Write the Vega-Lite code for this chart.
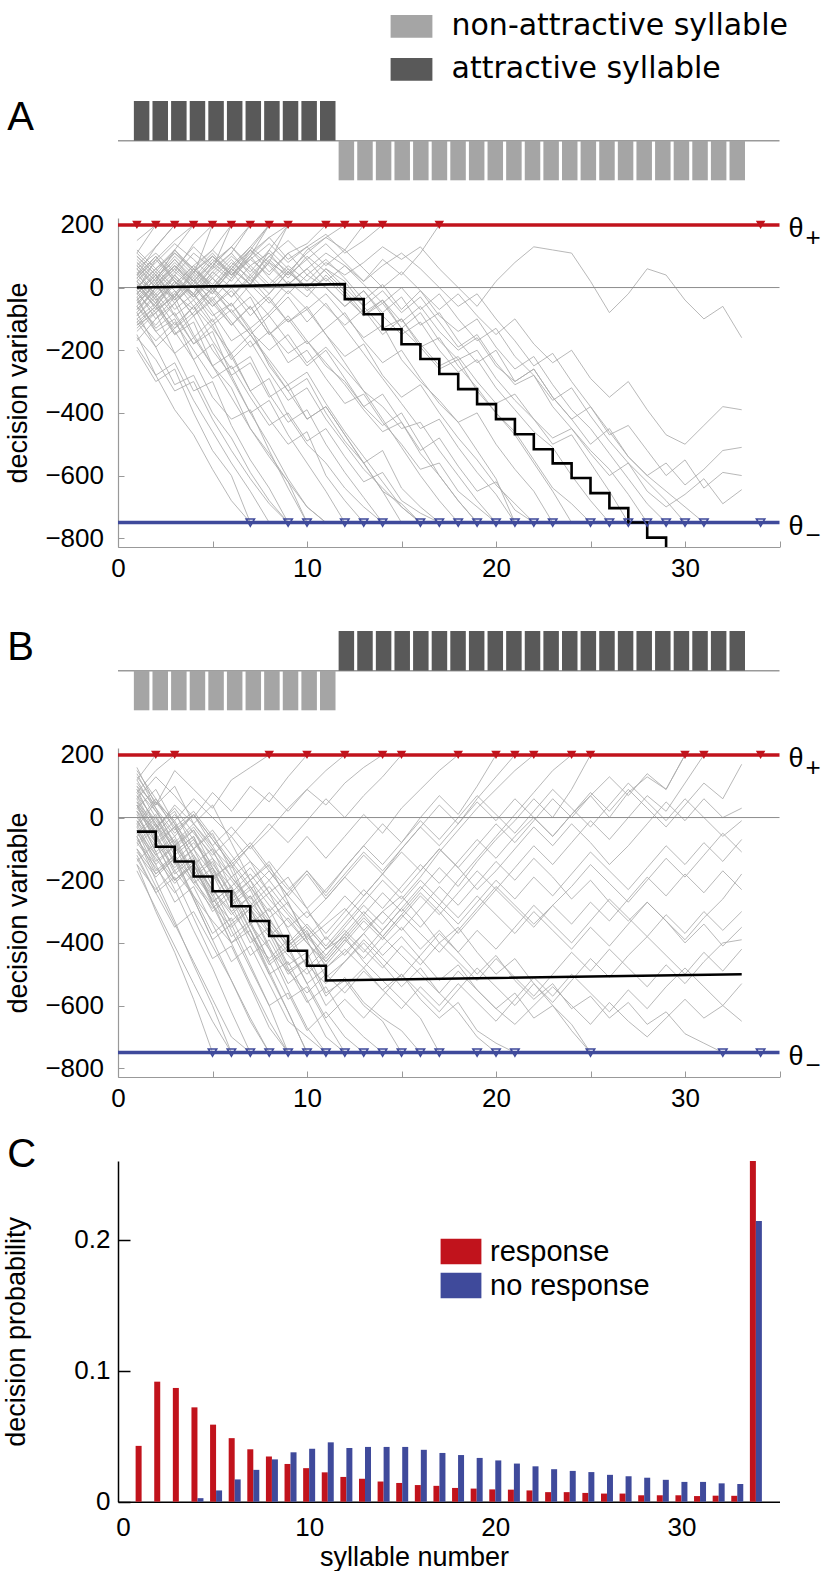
{
"$schema": "https://vega.github.io/schema/vega-lite/v6.json",
"padding": {"left": 2, "top": 7, "right": 0, "bottom": 0},
"bounds": "flush",
"spacing": 37,
"config": {
  "font": "Liberation Sans",
  "view": {"stroke": null},
  "axis": {"labelFontSize": 26, "titleFontSize": 27, "titleFontWeight": "normal", "labelColor": "#000", "titleColor": "#000", "grid": false, "labelOverlap": false, "labelFlush": false, "labelFont": "Liberation Sans", "titleFont": "Liberation Sans"},
  "legend": {"labelFont": "Liberation Sans", "labelColor": "#000"}
},
"resolve": {"scale": {"x": "independent", "y": "independent", "color": "independent"}, "legend": {"color": "independent"}},
"datasets": {
  "strip": [
    {"x":1,"kA":"attractive syllable","vA":1,"kB":"non-attractive syllable","vB":-1},
    {"x":2,"kA":"attractive syllable","vA":1,"kB":"non-attractive syllable","vB":-1},
    {"x":3,"kA":"attractive syllable","vA":1,"kB":"non-attractive syllable","vB":-1},
    {"x":4,"kA":"attractive syllable","vA":1,"kB":"non-attractive syllable","vB":-1},
    {"x":5,"kA":"attractive syllable","vA":1,"kB":"non-attractive syllable","vB":-1},
    {"x":6,"kA":"attractive syllable","vA":1,"kB":"non-attractive syllable","vB":-1},
    {"x":7,"kA":"attractive syllable","vA":1,"kB":"non-attractive syllable","vB":-1},
    {"x":8,"kA":"attractive syllable","vA":1,"kB":"non-attractive syllable","vB":-1},
    {"x":9,"kA":"attractive syllable","vA":1,"kB":"non-attractive syllable","vB":-1},
    {"x":10,"kA":"attractive syllable","vA":1,"kB":"non-attractive syllable","vB":-1},
    {"x":11,"kA":"attractive syllable","vA":1,"kB":"non-attractive syllable","vB":-1},
    {"x":12,"kA":"non-attractive syllable","vA":-1,"kB":"attractive syllable","vB":1},
    {"x":13,"kA":"non-attractive syllable","vA":-1,"kB":"attractive syllable","vB":1},
    {"x":14,"kA":"non-attractive syllable","vA":-1,"kB":"attractive syllable","vB":1},
    {"x":15,"kA":"non-attractive syllable","vA":-1,"kB":"attractive syllable","vB":1},
    {"x":16,"kA":"non-attractive syllable","vA":-1,"kB":"attractive syllable","vB":1},
    {"x":17,"kA":"non-attractive syllable","vA":-1,"kB":"attractive syllable","vB":1},
    {"x":18,"kA":"non-attractive syllable","vA":-1,"kB":"attractive syllable","vB":1},
    {"x":19,"kA":"non-attractive syllable","vA":-1,"kB":"attractive syllable","vB":1},
    {"x":20,"kA":"non-attractive syllable","vA":-1,"kB":"attractive syllable","vB":1},
    {"x":21,"kA":"non-attractive syllable","vA":-1,"kB":"attractive syllable","vB":1},
    {"x":22,"kA":"non-attractive syllable","vA":-1,"kB":"attractive syllable","vB":1},
    {"x":23,"kA":"non-attractive syllable","vA":-1,"kB":"attractive syllable","vB":1},
    {"x":24,"kA":"non-attractive syllable","vA":-1,"kB":"attractive syllable","vB":1},
    {"x":25,"kA":"non-attractive syllable","vA":-1,"kB":"attractive syllable","vB":1},
    {"x":26,"kA":"non-attractive syllable","vA":-1,"kB":"attractive syllable","vB":1},
    {"x":27,"kA":"non-attractive syllable","vA":-1,"kB":"attractive syllable","vB":1},
    {"x":28,"kA":"non-attractive syllable","vA":-1,"kB":"attractive syllable","vB":1},
    {"x":29,"kA":"non-attractive syllable","vA":-1,"kB":"attractive syllable","vB":1},
    {"x":30,"kA":"non-attractive syllable","vA":-1,"kB":"attractive syllable","vB":1},
    {"x":31,"kA":"non-attractive syllable","vA":-1,"kB":"attractive syllable","vB":1},
    {"x":32,"kA":"non-attractive syllable","vA":-1,"kB":"attractive syllable","vB":1},
    {"x":33,"kA":"non-attractive syllable","vA":-1,"kB":"attractive syllable","vB":1}
  ],
  "tA": [
    {"t":"u1","x":[1,2,3,4,5,6,7,8,9,10,11,12,13,14,15,16,17,18,19,20,21,22,23,24,25,26,27,28,29,30,31,32,33],"y":[110,200]},
    {"t":"u2","x":[1,2,3,4,5,6,7,8,9,10,11,12,13,14,15,16,17,18,19,20,21,22,23,24,25,26,27,28,29,30,31,32,33],"y":[150,200]},
    {"t":"u3","x":[1,2,3,4,5,6,7,8,9,10,11,12,13,14,15,16,17,18,19,20,21,22,23,24,25,26,27,28,29,30,31,32,33],"y":[40,130,200]},
    {"t":"u4","x":[1,2,3,4,5,6,7,8,9,10,11,12,13,14,15,16,17,18,19,20,21,22,23,24,25,26,27,28,29,30,31,32,33],"y":[-10,90,150,200]},
    {"t":"u5","x":[1,2,3,4,5,6,7,8,9,10,11,12,13,14,15,16,17,18,19,20,21,22,23,24,25,26,27,28,29,30,31,32,33],"y":[80,20,120,200]},
    {"t":"u6","x":[1,2,3,4,5,6,7,8,9,10,11,12,13,14,15,16,17,18,19,20,21,22,23,24,25,26,27,28,29,30,31,32,33],"y":[60,110,50,140,200]},
    {"t":"u7","x":[1,2,3,4,5,6,7,8,9,10,11,12,13,14,15,16,17,18,19,20,21,22,23,24,25,26,27,28,29,30,31,32,33],"y":[-40,30,100,40,200]},
    {"t":"u8","x":[1,2,3,4,5,6,7,8,9,10,11,12,13,14,15,16,17,18,19,20,21,22,23,24,25,26,27,28,29,30,31,32,33],"y":[10,-50,40,110,60,200]},
    {"t":"u9","x":[1,2,3,4,5,6,7,8,9,10,11,12,13,14,15,16,17,18,19,20,21,22,23,24,25,26,27,28,29,30,31,32,33],"y":[-80,0,-30,60,120,200]},
    {"t":"u10","x":[1,2,3,4,5,6,7,8,9,10,11,12,13,14,15,16,17,18,19,20,21,22,23,24,25,26,27,28,29,30,31,32,33],"y":[30,100,20,-20,70,130,200]},
    {"t":"u11","x":[1,2,3,4,5,6,7,8,9,10,11,12,13,14,15,16,17,18,19,20,21,22,23,24,25,26,27,28,29,30,31,32,33],"y":[-120,-60,20,-30,50,110,200]},
    {"t":"u12","x":[1,2,3,4,5,6,7,8,9,10,11,12,13,14,15,16,17,18,19,20,21,22,23,24,25,26,27,28,29,30,31,32,33],"y":[70,0,60,130,70,20,100,200]},
    {"t":"u13","x":[1,2,3,4,5,6,7,8,9,10,11,12,13,14,15,16,17,18,19,20,21,22,23,24,25,26,27,28,29,30,31,32,33],"y":[-20,40,-40,10,80,30,120,200]},
    {"t":"u14","x":[1,2,3,4,5,6,7,8,9,10,11,12,13,14,15,16,17,18,19,20,21,22,23,24,25,26,27,28,29,30,31,32,33],"y":[-60,-120,-50,20,-20,60,10,120,200]},
    {"t":"u15","x":[1,2,3,4,5,6,7,8,9,10,11,12,13,14,15,16,17,18,19,20,21,22,23,24,25,26,27,28,29,30,31,32,33],"y":[100,40,110,60,0,70,130,80,200]},
    {"t":"u16","x":[1,2,3,4,5,6,7,8,9,10,11,12,13,14,15,16,17,18,19,20,21,22,23,24,25,26,27,28,29,30,31,32,33],"y":[-30,30,90,20,-40,30,90,40,110,140,200]},
    {"t":"u17","x":[1,2,3,4,5,6,7,8,9,10,11,12,13,14,15,16,17,18,19,20,21,22,23,24,25,26,27,28,29,30,31,32,33],"y":[20,-40,10,70,120,60,10,80,40,120,160,200]},
    {"t":"u18","x":[1,2,3,4,5,6,7,8,9,10,11,12,13,14,15,16,17,18,19,20,21,22,23,24,25,26,27,28,29,30,31,32,33],"y":[-50,10,70,0,60,110,40,100,50,110,160,120,200]},
    {"t":"u19","x":[1,2,3,4,5,6,7,8,9,10,11,12,13,14,15,16,17,18,19,20,21,22,23,24,25,26,27,28,29,30,31,32,33],"y":[0,60,120,50,100,40,110,160,90,130,170,110,150,200]},
    {"t":"u20","x":[1,2,3,4,5,6,7,8,9,10,11,12,13,14,15,16,17,18,19,20,21,22,23,24,25,26,27,28,29,30,31,32,33],"y":[-90,-20,40,-30,30,90,20,80,10,60,110,70,20,90,40,110,200]},
    {"t":"d1","x":[1,2,3,4,5,6,7,8,9,10,11,12,13,14,15,16,17,18,19,20,21,22,23,24,25,26,27,28,29,30,31,32,33],"y":[-150,-280,-390,-470,-580,-680,-750]},
    {"t":"d2","x":[1,2,3,4,5,6,7,8,9,10,11,12,13,14,15,16,17,18,19,20,21,22,23,24,25,26,27,28,29,30,31,32,33],"y":[-200,-300,-260,-400,-520,-600,-750]},
    {"t":"d3","x":[1,2,3,4,5,6,7,8,9,10,11,12,13,14,15,16,17,18,19,20,21,22,23,24,25,26,27,28,29,30,31,32,33],"y":[-80,-190,-310,-280,-400,-480,-590,-680,-750]},
    {"t":"d4","x":[1,2,3,4,5,6,7,8,9,10,11,12,13,14,15,16,17,18,19,20,21,22,23,24,25,26,27,28,29,30,31,32,33],"y":[-120,-80,-210,-330,-300,-440,-550,-640,-750]},
    {"t":"d5","x":[1,2,3,4,5,6,7,8,9,10,11,12,13,14,15,16,17,18,19,20,21,22,23,24,25,26,27,28,29,30,31,32,33],"y":[-30,-140,-100,-230,-350,-420,-390,-520,-640,-750]},
    {"t":"d6","x":[1,2,3,4,5,6,7,8,9,10,11,12,13,14,15,16,17,18,19,20,21,22,23,24,25,26,27,28,29,30,31,32,33],"y":[50,-40,-150,-110,-250,-320,-450,-530,-620,-750]},
    {"t":"d7","x":[1,2,3,4,5,6,7,8,9,10,11,12,13,14,15,16,17,18,19,20,21,22,23,24,25,26,27,28,29,30,31,32,33],"y":[-60,20,-90,-180,-140,-280,-400,-360,-470,-560,-650,-750]},
    {"t":"d8","x":[1,2,3,4,5,6,7,8,9,10,11,12,13,14,15,16,17,18,19,20,21,22,23,24,25,26,27,28,29,30,31,32,33],"y":[20,-70,-30,-150,-250,-210,-330,-420,-500,-460,-600,-680,-750]},
    {"t":"d9","x":[1,2,3,4,5,6,7,8,9,10,11,12,13,14,15,16,17,18,19,20,21,22,23,24,25,26,27,28,29,30,31,32,33],"y":[-10,-100,-50,-160,-100,-220,-330,-290,-410,-500,-560,-640,-700,-750]},
    {"t":"d10","x":[1,2,3,4,5,6,7,8,9,10,11,12,13,14,15,16,17,18,19,20,21,22,23,24,25,26,27,28,29,30,31,32,33],"y":[90,30,-50,10,-80,-170,-130,-250,-330,-290,-400,-490,-560,-650,-690,-750]},
    {"t":"d11","x":[1,2,3,4,5,6,7,8,9,10,11,12,13,14,15,16,17,18,19,20,21,22,23,24,25,26,27,28,29,30,31,32,33],"y":[-110,-60,-150,-90,-200,-280,-240,-350,-310,-420,-380,-470,-560,-520,-640,-700,-750]},
    {"t":"d12","x":[1,2,3,4,5,6,7,8,9,10,11,12,13,14,15,16,17,18,19,20,21,22,23,24,25,26,27,28,29,30,31,32,33],"y":[30,90,20,-60,0,-80,-30,-140,-210,-170,-250,-300,-380,-440,-400,-500,-600,-680,-750]},
    {"t":"d13","x":[1,2,3,4,5,6,7,8,9,10,11,12,13,14,15,16,17,18,19,20,21,22,23,24,25,26,27,28,29,30,31,32,33],"y":[-40,10,-70,-20,-110,-50,-140,-200,-150,-240,-190,-260,-330,-380,-450,-430,-520,-600,-680,-750]},
    {"t":"d14","x":[1,2,3,4,5,6,7,8,9,10,11,12,13,14,15,16,17,18,19,20,21,22,23,24,25,26,27,28,29,30,31,32,33],"y":[60,0,70,10,-60,-10,-90,-30,-110,-70,-20,-90,-160,-120,-230,-300,-360,-430,-520,-610,-750]},
    {"t":"d15","x":[1,2,3,4,5,6,7,8,9,10,11,12,13,14,15,16,17,18,19,20,21,22,23,24,25,26,27,28,29,30,31,32,33],"y":[-130,-70,-10,-90,-40,-120,-60,-150,-100,-180,-130,-80,-170,-240,-200,-290,-370,-430,-400,-500,-580,-650,-750]},
    {"t":"d16","x":[1,2,3,4,5,6,7,8,9,10,11,12,13,14,15,16,17,18,19,20,21,22,23,24,25,26,27,28,29,30,31,32,33],"y":[10,-50,20,-40,30,-30,40,-20,50,0,60,20,-60,-130,-100,-190,-260,-230,-330,-400,-470,-560,-650,-750]},
    {"t":"d17","x":[1,2,3,4,5,6,7,8,9,10,11,12,13,14,15,16,17,18,19,20,21,22,23,24,25,26,27,28,29,30,31,32,33],"y":[-20,40,-30,50,-10,70,10,90,30,100,50,-10,-80,-40,-130,-190,-160,-250,-320,-400,-460,-550,-640,-690,-750]},
    {"t":"d18","x":[1,2,3,4,5,6,7,8,9,10,11,12,13,14,15,16,17,18,19,20,21,22,23,24,25,26,27,28,29,30,31,32,33],"y":[70,10,80,20,90,40,100,30,-20,40,0,-60,-10,-90,-150,-110,-200,-270,-230,-320,-390,-460,-510,-600,-680,-750]},
    {"t":"d19","x":[1,2,3,4,5,6,7,8,9,10,11,12,13,14,15,16,17,18,19,20,21,22,23,24,25,26,27,28,29,30,31,32,33],"y":[-70,0,60,0,70,130,60,0,60,-10,30,-30,-90,-50,-130,-80,-170,-230,-200,-290,-360,-420,-500,-470,-560,-650,-750]},
    {"t":"d20","x":[1,2,3,4,5,6,7,8,9,10,11,12,13,14,15,16,17,18,19,20,21,22,23,24,25,26,27,28,29,30,31,32,33],"y":[40,100,30,-30,40,100,50,120,60,0,60,0,-60,-10,-80,-30,-110,-190,-150,-240,-310,-280,-380,-450,-520,-580,-660,-750]},
    {"t":"d21","x":[1,2,3,4,5,6,7,8,9,10,11,12,13,14,15,16,17,18,19,20,21,22,23,24,25,26,27,28,29,30,31,32,33],"y":[0,-60,10,70,0,60,120,50,110,40,90,30,-40,10,-70,-10,-90,-140,-100,-190,-260,-220,-310,-390,-450,-530,-610,-690,-750]},
    {"t":"d22","x":[1,2,3,4,5,6,7,8,9,10,11,12,13,14,15,16,17,18,19,20,21,22,23,24,25,26,27,28,29,30,31,32,33],"y":[-90,-30,30,-20,50,0,70,110,40,90,20,70,10,-50,0,-70,-20,-100,-170,-130,-220,-280,-360,-320,-410,-490,-560,-620,-680,-750]},
    {"t":"d23","x":[1,2,3,4,5,6,7,8,9,10,11,12,13,14,15,16,17,18,19,20,21,22,23,24,25,26,27,28,29,30,31,32,33],"y":[120,60,0,60,10,80,30,100,150,90,140,80,20,70,110,60,0,-60,-20,-100,-170,-250,-210,-300,-380,-460,-540,-600,-650,-700,-750]},
    {"t":"d24","x":[1,2,3,4,5,6,7,8,9,10,11,12,13,14,15,16,17,18,19,20,21,22,23,24,25,26,27,28,29,30,31,32,33],"y":[-160,-230,-330,-300,-420,-520,-610,-690,-750]},
    {"t":"d25","x":[1,2,3,4,5,6,7,8,9,10,11,12,13,14,15,16,17,18,19,20,21,22,23,24,25,26,27,28,29,30,31,32,33],"y":[-190,-280,-240,-360,-460,-560,-650,-750]},
    {"t":"d26","x":[1,2,3,4,5,6,7,8,9,10,11,12,13,14,15,16,17,18,19,20,21,22,23,24,25,26,27,28,29,30,31,32,33],"y":[60,-30,-120,-60,-170,-260,-220,-340,-430,-390,-500,-590,-670,-750]},
    {"t":"d27","x":[1,2,3,4,5,6,7,8,9,10,11,12,13,14,15,16,17,18,19,20,21,22,23,24,25,26,27,28,29,30,31,32,33],"y":[-40,-130,-80,-180,-120,-230,-170,-270,-360,-320,-420,-500,-580,-640,-700,-750]},
    {"t":"d28","x":[1,2,3,4,5,6,7,8,9,10,11,12,13,14,15,16,17,18,19,20,21,22,23,24,25,26,27,28,29,30,31,32,33],"y":[100,40,-40,30,-50,-120,-60,-150,-90,-170,-240,-310,-390,-460,-430,-530,-600,-680,-750]},
    {"t":"d29","x":[1,2,3,4,5,6,7,8,9,10,11,12,13,14,15,16,17,18,19,20,21,22,23,24,25,26,27,28,29,30,31,32,33],"y":[-100,-170,-110,-200,-290,-250,-350,-440,-400,-490,-450,-540,-620,-590,-680,-720,-750]},
    {"t":"d30","x":[1,2,3,4,5,6,7,8,9,10,11,12,13,14,15,16,17,18,19,20,21,22,23,24,25,26,27,28,29,30,31,32,33],"y":[-20,50,-10,-90,-30,-110,-190,-140,-240,-200,-290,-370,-340,-430,-500,-580,-560,-650,-700,-750]},
    {"t":"d31","x":[1,2,3,4,5,6,7,8,9,10,11,12,13,14,15,16,17,18,19,20,21,22,23,24,25,26,27,28,29,30,31,32,33],"y":[30,-30,40,-20,-90,-50,-130,-80,-10,-70,-150,-220,-180,-280,-350,-310,-400,-480,-550,-630,-690,-750]},
    {"t":"e1","x":[1,2,3,4,5,6,7,8,9,10,11,12,13,14,15,16,17,18,19,20,21,22,23,24,25,26,27,28,29,30,31,32,33],"y":[70,130,200]},
    {"t":"e2","x":[1,2,3,4,5,6,7,8,9,10,11,12,13,14,15,16,17,18,19,20,21,22,23,24,25,26,27,28,29,30,31,32,33],"y":[-170,-100,-30,40,-20,60,130,200]},
    {"t":"e3","x":[1,2,3,4,5,6,7,8,9,10,11,12,13,14,15,16,17,18,19,20,21,22,23,24,25,26,27,28,29,30,31,32,33],"y":[-100,-50,-140,-230,-180,-290,-400,-500,-610,-700,-750]},
    {"t":"e4","x":[1,2,3,4,5,6,7,8,9,10,11,12,13,14,15,16,17,18,19,20,21,22,23,24,25,26,27,28,29,30,31,32,33],"y":[20,80,140,90,30,-30,30,-40,-110,-60,-150,-240,-330,-420,-510,-600,-680,-750]},
    {"t":"e5","x":[1,2,3,4,5,6,7,8,9,10,11,12,13,14,15,16,17,18,19,20,21,22,23,24,25,26,27,28,29,30,31,32,33],"y":[-60,-140,-210,-160,-250,-350,-450,-540,-620,-700,-750]},
    {"t":"e6","x":[1,2,3,4,5,6,7,8,9,10,11,12,13,14,15,16,17,18,19,20,21,22,23,24,25,26,27,28,29,30,31,32,33],"y":[110,50,120,60,-10,50,-20,-90,-30,-110,-50,-130,-210,-290,-370,-450,-420,-510,-590,-660,-750]},
    {"t":"e7","x":[1,2,3,4,5,6,7,8,9,10,11,12,13,14,15,16,17,18,19,20,21,22,23,24,25,26,27,28,29,30,31,32,33],"y":[-20,-80,-20,50,110,40,100,160,200]},
    {"t":"e8","x":[1,2,3,4,5,6,7,8,9,10,11,12,13,14,15,16,17,18,19,20,21,22,23,24,25,26,27,28,29,30,31,32,33],"y":[40,-20,-90,-40,-120,-70,-150,-230,-310,-270,-370,-460,-540,-620,-700,-750]},
    {"t":"e9","x":[1,2,3,4,5,6,7,8,9,10,11,12,13,14,15,16,17,18,19,20,21,22,23,24,25,26,27,28,29,30,31,32,33],"y":[-110,-190,-130,-60,-130,-210,-150,-240,-330,-420,-380,-470,-560,-650,-750]},
    {"t":"e10","x":[1,2,3,4,5,6,7,8,9,10,11,12,13,14,15,16,17,18,19,20,21,22,23,24,25,26,27,28,29,30,31,32,33],"y":[0,-60,-130,-80,-10,-80,-150,-90,-170,-250,-200,-290,-380,-340,-430,-520,-480,-570,-650,-620,-710,-750]},
    {"t":"s1","x":[1,2,3,4,5,6,7,8,9,10,11,12,13,14,15,16,17,18,19,20,21,22,23,24,25,26,27,28,29,30,31,32,33],"y":[-50,10,70,20,80,130,70,10,70,20,80,40,80,130,90,130,60,0,-60,20,80,130,120,110,20,-80,-20,60,40,-40,-100,-60,-160]},
    {"t":"s2","x":[1,2,3,4,5,6,7,8,9,10,11,12,13,14,15,16,17,18,19,20,21,22,23,24,25,26,27,28,29,30,31,32,33],"y":[0,60,110,50,100,40,90,140,80,130,70,120,60,0,50,-10,-70,-20,-90,-150,-100,-180,-240,-200,-290,-350,-300,-390,-470,-500,-440,-380,-390]},
    {"t":"s3","x":[1,2,3,4,5,6,7,8,9,10,11,12,13,14,15,16,17,18,19,20,21,22,23,24,25,26,27,28,29,30,31,32,33],"y":[-140,-80,-20,-70,0,-60,10,-50,20,-30,40,-20,-90,-40,-110,-60,-140,-200,-160,-250,-300,-260,-350,-420,-500,-450,-540,-600,-560,-630,-580,-520,-510]},
    {"t":"s4","x":[1,2,3,4,5,6,7,8,9,10,11,12,13,14,15,16,17,18,19,20,21,22,23,24,25,26,27,28,29,30,31,32,33],"y":[80,20,90,30,100,50,120,70,10,60,0,-60,-10,-80,-30,-120,-80,-170,-240,-200,-300,-260,-350,-420,-380,-470,-440,-520,-600,-550,-640,-590,-600]},
    {"t":"s5","x":[1,2,3,4,5,6,7,8,9,10,11,12,13,14,15,16,17,18,19,20,21,22,23,24,25,26,27,28,29,30,31,32,33],"y":[-70,-10,50,0,-60,0,-70,-20,50,0,-60,-120,-70,-150,-100,-180,-250,-220,-300,-370,-340,-420,-480,-450,-530,-600,-560,-650,-700,-660,-610,-690,-645]}
  ],
  "tB": [
    {"t":"bu1","x":[1,2,3,4,5,6,7,8,9,10,11,12,13,14,15,16,17,18,19,20,21,22,23,24,25,26,27,28,29,30,31,32,33],"y":[120,200]},
    {"t":"bu2","x":[1,2,3,4,5,6,7,8,9,10,11,12,13,14,15,16,17,18,19,20,21,22,23,24,25,26,27,28,29,30,31,32,33],"y":[80,150,200]},
    {"t":"bd1","x":[1,2,3,4,5,6,7,8,9,10,11,12,13,14,15,16,17,18,19,20,21,22,23,24,25,26,27,28,29,30,31,32,33],"y":[-150,-300,-430,-580,-750]},
    {"t":"bd2","x":[1,2,3,4,5,6,7,8,9,10,11,12,13,14,15,16,17,18,19,20,21,22,23,24,25,26,27,28,29,30,31,32,33],"y":[-60,-200,-330,-470,-600,-750]},
    {"t":"bd3","x":[1,2,3,4,5,6,7,8,9,10,11,12,13,14,15,16,17,18,19,20,21,22,23,24,25,26,27,28,29,30,31,32,33],"y":[20,-110,-230,-360,-480,-620,-750]},
    {"t":"bd4","x":[1,2,3,4,5,6,7,8,9,10,11,12,13,14,15,16,17,18,19,20,21,22,23,24,25,26,27,28,29,30,31,32,33],"y":[-40,-170,-120,-260,-390,-520,-650,-750]},
    {"t":"bd5","x":[1,2,3,4,5,6,7,8,9,10,11,12,13,14,15,16,17,18,19,20,21,22,23,24,25,26,27,28,29,30,31,32,33],"y":[60,-60,-180,-130,-270,-400,-360,-500,-620,-750]},
    {"t":"bd6","x":[1,2,3,4,5,6,7,8,9,10,11,12,13,14,15,16,17,18,19,20,21,22,23,24,25,26,27,28,29,30,31,32,33],"y":[100,0,-110,-60,-190,-150,-290,-420,-550,-670,-750]},
    {"t":"bd7","x":[1,2,3,4,5,6,7,8,9,10,11,12,13,14,15,16,17,18,19,20,21,22,23,24,25,26,27,28,29,30,31,32,33],"y":[-120,-240,-190,-320,-450,-410,-540,-670,-750]},
    {"t":"bd8","x":[1,2,3,4,5,6,7,8,9,10,11,12,13,14,15,16,17,18,19,20,21,22,23,24,25,26,27,28,29,30,31,32,33],"y":[30,90,-20,-150,-100,-230,-360,-490,-620,-750]},
    {"t":"bd9","x":[1,2,3,4,5,6,7,8,9,10,11,12,13,14,15,16,17,18,19,20,21,22,23,24,25,26,27,28,29,30,31,32,33],"y":[-80,-20,-140,-260,-390,-340,-470,-600,-560,-680,-620,-700,-750]},
    {"t":"bd10","x":[1,2,3,4,5,6,7,8,9,10,11,12,13,14,15,16,17,18,19,20,21,22,23,24,25,26,27,28,29,30,31,32,33],"y":[50,-70,-10,-130,-250,-380,-330,-460,-580,-540,-650,-750]},
    {"t":"bd11","x":[1,2,3,4,5,6,7,8,9,10,11,12,13,14,15,16,17,18,19,20,21,22,23,24,25,26,27,28,29,30,31,32,33],"y":[-20,-140,-90,-210,-160,-280,-400,-350,-480,-590,-540,-640,-700,-750]},
    {"t":"bd12","x":[1,2,3,4,5,6,7,8,9,10,11,12,13,14,15,16,17,18,19,20,21,22,23,24,25,26,27,28,29,30,31,32,33],"y":[140,30,-90,-40,-160,-280,-230,-350,-470,-430,-560,-520,-600,-650,-750]},
    {"t":"bd13","x":[1,2,3,4,5,6,7,8,9,10,11,12,13,14,15,16,17,18,19,20,21,22,23,24,25,26,27,28,29,30,31,32,33],"y":[-50,10,-110,-60,-180,-300,-250,-370,-490,-450,-570,-510,-590,-640,-680,-750]},
    {"t":"bd14","x":[1,2,3,4,5,6,7,8,9,10,11,12,13,14,15,16,17,18,19,20,21,22,23,24,25,26,27,28,29,30,31,32,33],"y":[90,-30,20,-100,-50,-170,-290,-240,-360,-480,-420,-380,-460,-520,-580,-640,-750]},
    {"t":"bd15","x":[1,2,3,4,5,6,7,8,9,10,11,12,13,14,15,16,17,18,19,20,21,22,23,24,25,26,27,28,29,30,31,32,33],"y":[10,-110,-60,-180,-130,-250,-200,-320,-270,-390,-510,-460,-400,-470,-540,-480,-560,-620,-700,-750]},
    {"t":"bd16","x":[1,2,3,4,5,6,7,8,9,10,11,12,13,14,15,16,17,18,19,20,21,22,23,24,25,26,27,28,29,30,31,32,33],"y":[-90,-30,-150,-100,-220,-340,-290,-410,-530,-480,-600,-540,-480,-550,-500,-580,-640,-590,-680,-720,-750]},
    {"t":"bd17","x":[1,2,3,4,5,6,7,8,9,10,11,12,13,14,15,16,17,18,19,20,21,22,23,24,25,26,27,28,29,30,31,32,33],"y":[160,40,100,-20,40,-80,-200,-150,-270,-390,-340,-290,-360,-300,-250,-320,-400,-350,-430,-500,-450,-530,-600,-660,-750]},
    {"t":"bd18","x":[1,2,3,4,5,6,7,8,9,10,11,12,13,14,15,16,17,18,19,20,21,22,23,24,25,26,27,28,29,30,31,32,33],"y":[40,-80,-30,-150,-270,-220,-340,-290,-410,-360,-480,-430,-370,-440,-380,-450,-520,-470,-550,-610,-560,-640,-600,-680,-750]},
    {"t":"bd19","x":[1,2,3,4,5,6,7,8,9,10,11,12,13,14,15,16,17,18,19,20,21,22,23,24,25,26,27,28,29,30,31,32,33],"y":[-140,-80,-200,-150,-270,-220,-340,-460,-410,-530,-480,-420,-480,-410,-350,-420,-360,-430,-500,-440,-520,-580,-530,-610,-570,-640,-590,-660,-620,-690,-720,-750]},
    {"t":"bd20","x":[1,2,3,4,5,6,7,8,9,10,11,12,13,14,15,16,17,18,19,20,21,22,23,24,25,26,27,28,29,30,31,32,33],"y":[-30,-150,-270,-220,-340,-460,-410,-530,-650,-700,-750]},
    {"t":"bd21","x":[1,2,3,4,5,6,7,8,9,10,11,12,13,14,15,16,17,18,19,20,21,22,23,24,25,26,27,28,29,30,31,32,33],"y":[70,-50,-170,-120,-240,-360,-480,-600,-750]},
    {"t":"bd22","x":[1,2,3,4,5,6,7,8,9,10,11,12,13,14,15,16,17,18,19,20,21,22,23,24,25,26,27,28,29,30,31,32,33],"y":[-170,-290,-410,-530,-650,-750]},
    {"t":"f1","x":[1,2,3,4,5,6,7,8,9,10,11,12,13,14,15,16,17,18,19,20,21,22,23,24,25,26,27,28,29,30,31,32,33],"y":[-100,-220,-340,-460,-580,-700,-750]},
    {"t":"f2","x":[1,2,3,4,5,6,7,8,9,10,11,12,13,14,15,16,17,18,19,20,21,22,23,24,25,26,27,28,29,30,31,32,33],"y":[40,-80,-200,-150,-280,-400,-530,-650,-750]},
    {"t":"f3","x":[1,2,3,4,5,6,7,8,9,10,11,12,13,14,15,16,17,18,19,20,21,22,23,24,25,26,27,28,29,30,31,32,33],"y":[120,20,-80,-190,-140,-260,-380,-500,-460,-580,-700,-750]},
    {"t":"f4","x":[1,2,3,4,5,6,7,8,9,10,11,12,13,14,15,16,17,18,19,20,21,22,23,24,25,26,27,28,29,30,31,32,33],"y":[-60,-180,-130,-250,-370,-320,-440,-390,-500,-450,-380,-440,-370,-300,-360,-290,-220,-280,-210,-140,-200,-130,-190,-260,-200,-270,-330,-270,-330,-400,-340,-410,-350]},
    {"t":"f5","x":[1,2,3,4,5,6,7,8,9,10,11,12,13,14,15,16,17,18,19,20,21,22,23,24,25,26,27,28,29,30,31,32,33],"y":[80,-20,-120,-70,-170,-270,-220,-320,-420,-370,-460,-390,-320,-380,-310,-370,-430,-360,-290,-220,-280,-340,-280,-220,-150,-210,-270,-200,-130,-190,-120,-50,-110]},
    {"t":"f6","x":[1,2,3,4,5,6,7,8,9,10,11,12,13,14,15,16,17,18,19,20,21,22,23,24,25,26,27,28,29,30,31,32,33],"y":[-10,-120,-70,-190,-300,-250,-360,-470,-420,-530,-640,-580,-640,-570,-500,-560,-620,-550,-480,-540,-600,-530,-590,-520,-450,-510,-440,-380,-440,-500,-430,-490,-420]},
    {"t":"f7","x":[1,2,3,4,5,6,7,8,9,10,11,12,13,14,15,16,17,18,19,20,21,22,23,24,25,26,27,28,29,30,31,32,33],"y":[150,60,-40,10,-90,-190,-140,-240,-190,-290,-390,-320,-250,-180,-240,-170,-100,-160,-90,-20,-80,-10,60,0,70,130,70,140,90,200]},
    {"t":"f8","x":[1,2,3,4,5,6,7,8,9,10,11,12,13,14,15,16,17,18,19,20,21,22,23,24,25,26,27,28,29,30,31,32,33],"y":[-130,-240,-350,-300,-410,-520,-640,-750]},
    {"t":"br1","x":[1,2,3,4,5,6,7,8,9,10,11,12,13,14,15,16,17,18,19,20,21,22,23,24,25,26,27,28,29,30,31,32,33],"y":[100,40,150,90,30,120,160,200]},
    {"t":"br2","x":[1,2,3,4,5,6,7,8,9,10,11,12,13,14,15,16,17,18,19,20,21,22,23,24,25,26,27,28,29,30,31,32,33],"y":[60,130,70,0,80,20,100,50,130,200]},
    {"t":"br3","x":[1,2,3,4,5,6,7,8,9,10,11,12,13,14,15,16,17,18,19,20,21,22,23,24,25,26,27,28,29,30,31,32,33],"y":[-30,50,-10,60,0,-60,10,80,20,90,150,200]},
    {"t":"br4","x":[1,2,3,4,5,6,7,8,9,10,11,12,13,14,15,16,17,18,19,20,21,22,23,24,25,26,27,28,29,30,31,32,33],"y":[20,-40,40,-20,-90,-30,-100,-40,30,90,40,110,160,200]},
    {"t":"br5","x":[1,2,3,4,5,6,7,8,9,10,11,12,13,14,15,16,17,18,19,20,21,22,23,24,25,26,27,28,29,30,31,32,33],"y":[-60,0,-80,-20,-100,-160,-90,-20,-80,-10,60,0,70,130,200]},
    {"t":"br6","x":[1,2,3,4,5,6,7,8,9,10,11,12,13,14,15,16,17,18,19,20,21,22,23,24,25,26,27,28,29,30,31,32,33],"y":[40,-30,30,-50,-120,-60,-140,-200,-130,-60,-130,-60,10,-50,30,90,150,200]},
    {"t":"br7","x":[1,2,3,4,5,6,7,8,9,10,11,12,13,14,15,16,17,18,19,20,21,22,23,24,25,26,27,28,29,30,31,32,33],"y":[-10,-90,-30,-120,-200,-140,-220,-300,-240,-170,-240,-160,-90,-20,-80,0,70,10,100,200]},
    {"t":"br8","x":[1,2,3,4,5,6,7,8,9,10,11,12,13,14,15,16,17,18,19,20,21,22,23,24,25,26,27,28,29,30,31,32,33],"y":[90,20,-60,10,-70,-150,-230,-170,-250,-180,-260,-190,-120,-180,-100,-30,40,-20,60,130,200]},
    {"t":"br9","x":[1,2,3,4,5,6,7,8,9,10,11,12,13,14,15,16,17,18,19,20,21,22,23,24,25,26,27,28,29,30,31,32,33],"y":[-40,-120,-200,-140,-230,-310,-250,-330,-400,-340,-410,-340,-270,-200,-260,-190,-110,-40,30,90,150,200]},
    {"t":"br10","x":[1,2,3,4,5,6,7,8,9,10,11,12,13,14,15,16,17,18,19,20,21,22,23,24,25,26,27,28,29,30,31,32,33],"y":[50,-20,-100,-40,-130,-200,-280,-220,-300,-370,-440,-370,-300,-360,-290,-220,-280,-200,-130,-60,10,80,150,200]},
    {"t":"br11","x":[1,2,3,4,5,6,7,8,9,10,11,12,13,14,15,16,17,18,19,20,21,22,23,24,25,26,27,28,29,30,31,32,33],"y":[-80,-160,-240,-180,-260,-330,-280,-350,-430,-380,-450,-380,-310,-240,-300,-230,-160,-220,-140,-70,-10,60,0,90,200]},
    {"t":"br12","x":[1,2,3,4,5,6,7,8,9,10,11,12,13,14,15,16,17,18,19,20,21,22,23,24,25,26,27,28,29,30,31,32,33],"y":[130,50,-30,20,-60,-140,-80,-160,-230,-170,-250,-180,-110,-170,-100,-30,-90,-20,50,-10,60,0,-60,10,70,0,80,130,90,200]},
    {"t":"br13","x":[1,2,3,4,5,6,7,8,9,10,11,12,13,14,15,16,17,18,19,20,21,22,23,24,25,26,27,28,29,30,31,32,33],"y":[-110,-190,-130,-210,-290,-230,-310,-380,-320,-400,-470,-400,-330,-390,-320,-250,-310,-240,-170,-230,-160,-90,-150,-80,-10,-70,0,70,20,110,200]},
    {"t":"bs1","x":[1,2,3,4,5,6,7,8,9,10,11,12,13,14,15,16,17,18,19,20,21,22,23,24,25,26,27,28,29,30,31,32,33],"y":[0,-80,-160,-100,-180,-260,-200,-280,-350,-300,-370,-300,-230,-290,-220,-150,-210,-140,-70,-130,-60,0,-60,10,80,20,90,30,-30,40,110,60,170]},
    {"t":"bs2","x":[1,2,3,4,5,6,7,8,9,10,11,12,13,14,15,16,17,18,19,20,21,22,23,24,25,26,27,28,29,30,31,32,33],"y":[110,30,-50,10,-70,-150,-90,-170,-250,-320,-260,-190,-250,-180,-110,-170,-100,-160,-230,-170,-100,-30,-90,-20,-80,-150,-90,-20,50,-10,60,0,30]},
    {"t":"bs3","x":[1,2,3,4,5,6,7,8,9,10,11,12,13,14,15,16,17,18,19,20,21,22,23,24,25,26,27,28,29,30,31,32,33],"y":[-100,-180,-120,-200,-280,-350,-290,-370,-440,-500,-440,-370,-430,-360,-290,-350,-280,-340,-270,-200,-260,-190,-250,-180,-110,-170,-230,-160,-90,-150,-80,-140,-70]},
    {"t":"bs4","x":[1,2,3,4,5,6,7,8,9,10,11,12,13,14,15,16,17,18,19,20,21,22,23,24,25,26,27,28,29,30,31,32,33],"y":[30,-50,10,-70,-150,-220,-160,-240,-310,-380,-320,-250,-310,-380,-310,-240,-300,-370,-300,-230,-290,-350,-280,-340,-270,-330,-260,-190,-250,-180,-240,-170,-230]},
    {"t":"bs5","x":[1,2,3,4,5,6,7,8,9,10,11,12,13,14,15,16,17,18,19,20,21,22,23,24,25,26,27,28,29,30,31,32,33],"y":[-50,-130,-210,-150,-230,-300,-380,-450,-390,-470,-530,-460,-390,-450,-510,-440,-370,-430,-360,-420,-350,-280,-340,-400,-330,-260,-320,-380,-310,-370,-300,-360,-300]},
    {"t":"bs6","x":[1,2,3,4,5,6,7,8,9,10,11,12,13,14,15,16,17,18,19,20,21,22,23,24,25,26,27,28,29,30,31,32,33],"y":[70,-10,-90,-30,-110,-190,-260,-200,-280,-350,-420,-360,-420,-480,-410,-470,-400,-460,-520,-450,-510,-570,-500,-430,-490,-420,-480,-540,-470,-530,-460,-400,-390]},
    {"t":"bs7","x":[1,2,3,4,5,6,7,8,9,10,11,12,13,14,15,16,17,18,19,20,21,22,23,24,25,26,27,28,29,30,31,32,33],"y":[-150,-230,-170,-250,-330,-400,-340,-420,-490,-560,-500,-560,-490,-550,-610,-540,-600,-530,-590,-650,-580,-510,-570,-500,-560,-620,-550,-610,-540,-480,-540,-600,-530]},
    {"t":"bs8","x":[1,2,3,4,5,6,7,8,9,10,11,12,13,14,15,16,17,18,19,20,21,22,23,24,25,26,27,28,29,30,31,32,33],"y":[20,-60,-140,-80,-160,-240,-180,-260,-330,-400,-460,-390,-450,-380,-440,-500,-560,-490,-550,-610,-660,-600,-540,-600,-660,-590,-650,-700,-640,-580,-640,-600,-650]},
    {"t":"bs9","x":[1,2,3,4,5,6,7,8,9,10,11,12,13,14,15,16,17,18,19,20,21,22,23,24,25,26,27,28,29,30,31,32,33],"y":[-20,60,-20,-100,-40,-120,-200,-140,-220,-290,-230,-160,-90,-150,-80,-10,-70,0,70,10,-50,20,90,30,-30,40,110,50,-10,60,0,-60,-10]},
    {"t":"bs10","x":[1,2,3,4,5,6,7,8,9,10,11,12,13,14,15,16,17,18,19,20,21,22,23,24,25,26,27,28,29,30,31,32,33],"y":[-70,-150,-90,-170,-250,-190,-270,-340,-410,-350,-420,-350,-280,-340,-270,-200,-260,-320,-250,-310,-370,-300,-360,-420,-350,-410,-340,-270,-330,-390,-320,-260,-180]}
  ],
  "blkA": [
    {"o":1,"x":1,"y":0},{"o":2,"x":12,"y":11},{"o":3,"x":12,"y":-37},{"o":4,"x":13,"y":-37},{"o":5,"x":13,"y":-85},{"o":6,"x":14,"y":-85},{"o":7,"x":14,"y":-133},{"o":8,"x":15,"y":-133},{"o":9,"x":15,"y":-181},{"o":10,"x":16,"y":-181},{"o":11,"x":16,"y":-228},{"o":12,"x":17,"y":-228},{"o":13,"x":17,"y":-276},{"o":14,"x":18,"y":-276},{"o":15,"x":18,"y":-324},{"o":16,"x":19,"y":-324},{"o":17,"x":19,"y":-372},{"o":18,"x":20,"y":-372},{"o":19,"x":20,"y":-420},{"o":20,"x":21,"y":-420},{"o":21,"x":21,"y":-468},{"o":22,"x":22,"y":-468},{"o":23,"x":22,"y":-516},{"o":24,"x":23,"y":-516},{"o":25,"x":23,"y":-561},{"o":26,"x":24,"y":-561},{"o":27,"x":24,"y":-608},{"o":28,"x":25,"y":-608},{"o":29,"x":25,"y":-656},{"o":30,"x":26,"y":-656},{"o":31,"x":26,"y":-704},{"o":32,"x":27,"y":-704},{"o":33,"x":27,"y":-750},{"o":34,"x":28,"y":-750},{"o":35,"x":28,"y":-798},{"o":36,"x":29,"y":-798},{"o":37,"x":29,"y":-828}
  ],
  "blkB": [
    {"o":1,"x":1,"y":-45},{"o":2,"x":2,"y":-45},{"o":3,"x":2,"y":-93},{"o":4,"x":3,"y":-93},{"o":5,"x":3,"y":-140},{"o":6,"x":4,"y":-140},{"o":7,"x":4,"y":-188},{"o":8,"x":5,"y":-188},{"o":9,"x":5,"y":-235},{"o":10,"x":6,"y":-235},{"o":11,"x":6,"y":-283},{"o":12,"x":7,"y":-283},{"o":13,"x":7,"y":-330},{"o":14,"x":8,"y":-330},{"o":15,"x":8,"y":-378},{"o":16,"x":9,"y":-378},{"o":17,"x":9,"y":-425},{"o":18,"x":10,"y":-425},{"o":19,"x":10,"y":-473},{"o":20,"x":11,"y":-473},{"o":21,"x":11,"y":-520},{"o":22,"x":33,"y":-500}
  ],
  "mk": [
    {"p":"A","x":1,"y":200},{"p":"A","x":2,"y":200},{"p":"A","x":3,"y":200},{"p":"A","x":4,"y":200},{"p":"A","x":5,"y":200},{"p":"A","x":6,"y":200},{"p":"A","x":7,"y":200},{"p":"A","x":8,"y":200},{"p":"A","x":9,"y":200},{"p":"A","x":11,"y":200},{"p":"A","x":12,"y":200},{"p":"A","x":13,"y":200},{"p":"A","x":14,"y":200},{"p":"A","x":17,"y":200},{"p":"A","x":34,"y":200},
    {"p":"A","x":7,"y":-750},{"p":"A","x":9,"y":-750},{"p":"A","x":10,"y":-750},{"p":"A","x":12,"y":-750},{"p":"A","x":13,"y":-750},{"p":"A","x":14,"y":-750},{"p":"A","x":16,"y":-750},{"p":"A","x":17,"y":-750},{"p":"A","x":18,"y":-750},{"p":"A","x":19,"y":-750},{"p":"A","x":20,"y":-750},{"p":"A","x":21,"y":-750},{"p":"A","x":22,"y":-750},{"p":"A","x":23,"y":-750},{"p":"A","x":25,"y":-750},{"p":"A","x":26,"y":-750},{"p":"A","x":27,"y":-750},{"p":"A","x":28,"y":-750},{"p":"A","x":29,"y":-750},{"p":"A","x":30,"y":-750},{"p":"A","x":31,"y":-750},{"p":"A","x":34,"y":-750},
    {"p":"B","x":2,"y":200},{"p":"B","x":3,"y":200},{"p":"B","x":8,"y":200},{"p":"B","x":10,"y":200},{"p":"B","x":12,"y":200},{"p":"B","x":14,"y":200},{"p":"B","x":15,"y":200},{"p":"B","x":18,"y":200},{"p":"B","x":20,"y":200},{"p":"B","x":21,"y":200},{"p":"B","x":22,"y":200},{"p":"B","x":24,"y":200},{"p":"B","x":25,"y":200},{"p":"B","x":30,"y":200},{"p":"B","x":31,"y":200},{"p":"B","x":34,"y":200},
    {"p":"B","x":5,"y":-750},{"p":"B","x":6,"y":-750},{"p":"B","x":7,"y":-750},{"p":"B","x":8,"y":-750},{"p":"B","x":9,"y":-750},{"p":"B","x":10,"y":-750},{"p":"B","x":11,"y":-750},{"p":"B","x":12,"y":-750},{"p":"B","x":13,"y":-750},{"p":"B","x":14,"y":-750},{"p":"B","x":15,"y":-750},{"p":"B","x":16,"y":-750},{"p":"B","x":17,"y":-750},{"p":"B","x":19,"y":-750},{"p":"B","x":20,"y":-750},{"p":"B","x":21,"y":-750},{"p":"B","x":25,"y":-750},{"p":"B","x":32,"y":-750},{"p":"B","x":34,"y":-750}
  ],
  "C": [
    {"x":1,"type":"response","p":0.0426},{"x":2,"type":"response","p":0.0916},{"x":3,"type":"response","p":0.0868},{"x":4,"type":"response","p":0.072},{"x":5,"type":"response","p":0.0588},{"x":6,"type":"response","p":0.0485},{"x":7,"type":"response","p":0.040},{"x":8,"type":"response","p":0.0345},{"x":9,"type":"response","p":0.0288},{"x":10,"type":"response","p":0.0256},{"x":11,"type":"response","p":0.0224},{"x":12,"type":"response","p":0.0189},{"x":13,"type":"response","p":0.0175},{"x":14,"type":"response","p":0.0154},{"x":15,"type":"response","p":0.0143},{"x":16,"type":"response","p":0.0127},{"x":17,"type":"response","p":0.0121},{"x":18,"type":"response","p":0.0105},{"x":19,"type":"response","p":0.0100},{"x":20,"type":"response","p":0.0094},{"x":21,"type":"response","p":0.0092},{"x":22,"type":"response","p":0.0086},{"x":23,"type":"response","p":0.0073},{"x":24,"type":"response","p":0.0073},{"x":25,"type":"response","p":0.0067},{"x":26,"type":"response","p":0.0062},{"x":27,"type":"response","p":0.0062},{"x":28,"type":"response","p":0.0049},{"x":29,"type":"response","p":0.0049},{"x":30,"type":"response","p":0.0049},{"x":31,"type":"response","p":0.0043},{"x":32,"type":"response","p":0.0046},{"x":33,"type":"response","p":0.0045},{"x":34,"type":"response","p":0.26},
    {"x":4,"type":"no response","p":0.0027},{"x":5,"type":"no response","p":0.0086},{"x":6,"type":"no response","p":0.017},{"x":7,"type":"no response","p":0.0243},{"x":8,"type":"no response","p":0.0323},{"x":9,"type":"no response","p":0.0377},{"x":10,"type":"no response","p":0.0404},{"x":11,"type":"no response","p":0.0453},{"x":12,"type":"no response","p":0.041},{"x":13,"type":"no response","p":0.0418},{"x":14,"type":"no response","p":0.0418},{"x":15,"type":"no response","p":0.0418},{"x":16,"type":"no response","p":0.0396},{"x":17,"type":"no response","p":0.0372},{"x":18,"type":"no response","p":0.0356},{"x":19,"type":"no response","p":0.0334},{"x":20,"type":"no response","p":0.0315},{"x":21,"type":"no response","p":0.0291},{"x":22,"type":"no response","p":0.027},{"x":23,"type":"no response","p":0.0248},{"x":24,"type":"no response","p":0.0235},{"x":25,"type":"no response","p":0.0226},{"x":26,"type":"no response","p":0.0205},{"x":27,"type":"no response","p":0.0194},{"x":28,"type":"no response","p":0.0183},{"x":29,"type":"no response","p":0.0167},{"x":30,"type":"no response","p":0.0151},{"x":31,"type":"no response","p":0.0151},{"x":32,"type":"no response","p":0.014},{"x":33,"type":"no response","p":0.0135},{"x":34,"type":"no response","p":0.2143}
  ]
},
"vconcat": [
  {
    "width": 661.5, "height": 79.3,
    "layer": [
      {"data": {"values": [{"v": 0}]}, "mark": {"type": "rule", "color": "#9a9a9a", "strokeWidth": 1.5}, "encoding": {"y": {"field": "v", "type": "quantitative", "axis": null}}},
      {"data": {"name": "strip"}, "mark": {"type": "bar", "width": 15.5},
       "encoding": {
         "x": {"field": "x", "type": "quantitative", "scale": {"domain": [0, 35], "nice": false}, "axis": null},
         "y": {"field": "vA", "type": "quantitative", "scale": {"domain": [-1, 1], "nice": false}, "axis": null},
         "color": {"field": "kA", "type": "nominal", "scale": {"domain": ["non-attractive syllable", "attractive syllable"], "range": ["#a5a5a5", "#595959"]},
           "legend": {"orient": "none", "legendX": 274.5, "legendY": -93.7, "title": null, "symbolType": "M-1.1,-0.6H1.1V0.6H-1.1Z", "symbolSize": 1444, "symbolStrokeWidth": 0, "symbolOpacity": 1, "labelFont": "DejaVu Sans", "labelFontSize": 30, "labelOffset": 21, "rowPadding": 9, "padding": 0, "labelLimit": 1000}}
       }},
      {"data": {"values": [{"s": "A"}]}, "mark": {"type": "text", "align": "left", "baseline": "alphabetic", "fontSize": 40, "color": "#000"},
       "encoding": {"x": {"datum": -6.217, "type": "quantitative"}, "y": {"datum": 0.26, "type": "quantitative"}, "text": {"field": "s"}}}
    ]
  },
  {
    "width": 661.5, "height": 329,
    "layer": [
      {"data": {"name": "tA"}, "transform": [{"flatten": ["x", "y"]}, {"filter": "isValid(datum.y)"}],
       "mark": {"type": "line", "color": "#ababab", "strokeWidth": 0.85},
       "encoding": {
         "x": {"field": "x", "type": "quantitative", "scale": {"domain": [0, 35], "nice": false},
           "axis": {"values": [0, 5, 10, 15, 20, 25, 30, 35], "labelExpr": "(datum.value % 10 === 0 && datum.value < 35) ? datum.label : ''", "title": null, "tickSize": -6, "labelPadding": 14, "domainColor": "#999999", "tickColor": "#999999", "domainWidth": 1.2}},
         "y": {"field": "y", "type": "quantitative", "scale": {"domain": [-828, 222], "nice": false, "zero": false},
           "axis": {"values": [-800, -700, -600, -500, -400, -300, -200, -100, 0, 100, 200], "labelExpr": "datum.value % 200 === 0 ? datum.label : ''", "title": "decision variable", "tickSize": -6, "labelPadding": 20.5, "titlePadding": 12, "domainColor": "#999999", "tickColor": "#999999", "domainWidth": 1.2}},
         "detail": {"field": "t", "type": "nominal"}
       }},
      {"data": {"values": [{"v": 0}]}, "mark": {"type": "rule", "color": "#8c8c8c", "strokeWidth": 1}, "encoding": {"y": {"field": "v", "type": "quantitative"}}},
      {"data": {"values": [{"v": 200}]}, "mark": {"type": "rule", "color": "#c1131c", "strokeWidth": 3.5}, "encoding": {"y": {"field": "v", "type": "quantitative"}}},
      {"data": {"values": [{"v": -750}]}, "mark": {"type": "rule", "color": "#3f4a9b", "strokeWidth": 3.5}, "encoding": {"y": {"field": "v", "type": "quantitative"}}},
      {"data": {"name": "blkA"}, "mark": {"type": "line", "color": "#000000", "strokeWidth": 2.6},
       "encoding": {"x": {"field": "x", "type": "quantitative"}, "y": {"field": "y", "type": "quantitative"}, "order": {"field": "o", "type": "quantitative"}}},
      {"data": {"name": "mk"}, "transform": [{"filter": "datum.p === 'A' && datum.y > 0"}],
       "mark": {"type": "point", "shape": "triangle-down", "filled": true, "color": "#c1131c", "size": 90, "opacity": 1},
       "encoding": {"x": {"field": "x", "type": "quantitative"}, "y": {"field": "y", "type": "quantitative"}}},
      {"data": {"name": "mk"}, "transform": [{"filter": "datum.p === 'A' && datum.y < 0"}],
       "mark": {"type": "point", "shape": "triangle-down", "filled": false, "color": "#3f4a9b", "strokeWidth": 1.6, "size": 70, "opacity": 1},
       "encoding": {"x": {"field": "x", "type": "quantitative"}, "y": {"field": "y", "type": "quantitative"}}},
      {"data": {"values": [{"v": 200, "s": "θ"}, {"v": -750, "s": "θ"}]},
       "mark": {"type": "text", "align": "left", "baseline": "middle", "fontSize": 27, "dx": 9, "dy": 4, "color": "#000"},
       "encoding": {"x": {"datum": 35, "type": "quantitative"}, "y": {"field": "v", "type": "quantitative"}, "text": {"field": "s"}}},
      {"data": {"values": [{"v": 200, "s": "+"}, {"v": -750, "s": "−"}]},
       "mark": {"type": "text", "align": "left", "baseline": "middle", "fontSize": 26, "dx": 26, "dy": 13, "color": "#000"},
       "encoding": {"x": {"datum": 35, "type": "quantitative"}, "y": {"field": "v", "type": "quantitative"}, "text": {"field": "s"}}}
    ]
  },
  {
    "width": 661.5, "height": 10,
    "data": {"values": [{"s": ""}]},
    "mark": {"type": "text", "opacity": 0},
    "encoding": {"text": {"field": "s"}}
  },
  {
    "width": 661.5, "height": 79.3,
    "layer": [
      {"data": {"values": [{"v": 0}]}, "mark": {"type": "rule", "color": "#9a9a9a", "strokeWidth": 1.5}, "encoding": {"y": {"field": "v", "type": "quantitative", "axis": null}}},
      {"data": {"name": "strip"}, "mark": {"type": "bar", "width": 15.5},
       "encoding": {
         "x": {"field": "x", "type": "quantitative", "scale": {"domain": [0, 35], "nice": false}, "axis": null},
         "y": {"field": "vB", "type": "quantitative", "scale": {"domain": [-1, 1], "nice": false}, "axis": null},
         "color": {"field": "kB", "type": "nominal", "scale": {"domain": ["non-attractive syllable", "attractive syllable"], "range": ["#a5a5a5", "#595959"]}, "legend": null}
       }},
      {"data": {"values": [{"s": "B"}]}, "mark": {"type": "text", "align": "left", "baseline": "alphabetic", "fontSize": 40, "color": "#000"},
       "encoding": {"x": {"datum": -6.217, "type": "quantitative"}, "y": {"datum": 0.26, "type": "quantitative"}, "text": {"field": "s"}}}
    ]
  },
  {
    "width": 661.5, "height": 329,
    "layer": [
      {"data": {"name": "tB"}, "transform": [{"flatten": ["x", "y"]}, {"filter": "isValid(datum.y)"}],
       "mark": {"type": "line", "color": "#ababab", "strokeWidth": 0.85},
       "encoding": {
         "x": {"field": "x", "type": "quantitative", "scale": {"domain": [0, 35], "nice": false},
           "axis": {"values": [0, 5, 10, 15, 20, 25, 30, 35], "labelExpr": "(datum.value % 10 === 0 && datum.value < 35) ? datum.label : ''", "title": null, "tickSize": -6, "labelPadding": 14, "domainColor": "#999999", "tickColor": "#999999", "domainWidth": 1.2}},
         "y": {"field": "y", "type": "quantitative", "scale": {"domain": [-828, 222], "nice": false, "zero": false},
           "axis": {"values": [-800, -700, -600, -500, -400, -300, -200, -100, 0, 100, 200], "labelExpr": "datum.value % 200 === 0 ? datum.label : ''", "title": "decision variable", "tickSize": -6, "labelPadding": 20.5, "titlePadding": 12, "domainColor": "#999999", "tickColor": "#999999", "domainWidth": 1.2}},
         "detail": {"field": "t", "type": "nominal"}
       }},
      {"data": {"values": [{"v": 0}]}, "mark": {"type": "rule", "color": "#8c8c8c", "strokeWidth": 1}, "encoding": {"y": {"field": "v", "type": "quantitative"}}},
      {"data": {"values": [{"v": 200}]}, "mark": {"type": "rule", "color": "#c1131c", "strokeWidth": 3.5}, "encoding": {"y": {"field": "v", "type": "quantitative"}}},
      {"data": {"values": [{"v": -750}]}, "mark": {"type": "rule", "color": "#3f4a9b", "strokeWidth": 3.5}, "encoding": {"y": {"field": "v", "type": "quantitative"}}},
      {"data": {"name": "blkB"}, "mark": {"type": "line", "color": "#000000", "strokeWidth": 2.6},
       "encoding": {"x": {"field": "x", "type": "quantitative"}, "y": {"field": "y", "type": "quantitative"}, "order": {"field": "o", "type": "quantitative"}}},
      {"data": {"name": "mk"}, "transform": [{"filter": "datum.p === 'B' && datum.y > 0"}],
       "mark": {"type": "point", "shape": "triangle-down", "filled": true, "color": "#c1131c", "size": 90, "opacity": 1},
       "encoding": {"x": {"field": "x", "type": "quantitative"}, "y": {"field": "y", "type": "quantitative"}}},
      {"data": {"name": "mk"}, "transform": [{"filter": "datum.p === 'B' && datum.y < 0"}],
       "mark": {"type": "point", "shape": "triangle-down", "filled": false, "color": "#3f4a9b", "strokeWidth": 1.6, "size": 70, "opacity": 1},
       "encoding": {"x": {"field": "x", "type": "quantitative"}, "y": {"field": "y", "type": "quantitative"}}},
      {"data": {"values": [{"v": 200, "s": "θ"}, {"v": -750, "s": "θ"}]},
       "mark": {"type": "text", "align": "left", "baseline": "middle", "fontSize": 27, "dx": 9, "dy": 4, "color": "#000"},
       "encoding": {"x": {"datum": 35, "type": "quantitative"}, "y": {"field": "v", "type": "quantitative"}, "text": {"field": "s"}}},
      {"data": {"values": [{"v": 200, "s": "+"}, {"v": -750, "s": "−"}]},
       "mark": {"type": "text", "align": "left", "baseline": "middle", "fontSize": 26, "dx": 26, "dy": 13, "color": "#000"},
       "encoding": {"x": {"datum": 35, "type": "quantitative"}, "y": {"field": "v", "type": "quantitative"}, "text": {"field": "s"}}}
    ]
  },
  {
    "width": 661.5, "height": 10,
    "data": {"values": [{"s": ""}]},
    "mark": {"type": "text", "opacity": 0},
    "encoding": {"text": {"field": "s"}}
  },
  {
    "width": 661.5, "height": 340.7,
    "layer": [
      {"data": {"name": "C"}, "transform": [{"filter": "datum.type === 'response'"}],
       "mark": {"type": "bar", "width": 6, "xOffset": -3},
       "encoding": {
         "x": {"field": "x", "type": "quantitative", "scale": {"domain": [0, 35], "nice": false},
           "axis": {"values": [0, 10, 20, 30], "ticks": false, "title": "syllable number", "titleX": 296, "labelPadding": 13, "titlePadding": 4, "domainColor": "#000", "domainWidth": 1.5}},
         "y": {"field": "p", "type": "quantitative", "scale": {"domain": [0, 0.26], "nice": false},
           "axis": {"values": [0, 0.1, 0.2], "format": "~g", "title": "decision probability", "tickSize": -12, "labelPadding": 20, "titlePadding": 43, "domainColor": "#000", "tickColor": "#000", "domainWidth": 1.5, "tickWidth": 1.5}},
         "color": {"field": "type", "type": "nominal", "scale": {"domain": ["response", "no response"], "range": ["#c1131c", "#3f4a9b"]},
           "legend": {"orient": "none", "legendX": 326, "legendY": 73.6, "title": null, "symbolType": "M-1.2,-0.75H1.2V0.75H-1.2Z", "symbolSize": 1156, "symbolStrokeWidth": 0, "symbolOpacity": 1, "labelFontSize": 29, "labelOffset": 12, "rowPadding": 2, "padding": 0, "labelLimit": 1000}}
       }},
      {"data": {"name": "C"}, "transform": [{"filter": "datum.type === 'no response'"}],
       "mark": {"type": "bar", "width": 6, "xOffset": 3},
       "encoding": {
         "x": {"field": "x", "type": "quantitative"},
         "y": {"field": "p", "type": "quantitative"},
         "color": {"field": "type", "type": "nominal"}
       }},
      {"data": {"values": [{"s": "C"}]}, "mark": {"type": "text", "align": "left", "baseline": "alphabetic", "fontSize": 40, "color": "#000"},
       "encoding": {"x": {"datum": -6.217, "type": "quantitative"}, "y": {"datum": 0.2554, "type": "quantitative"}, "text": {"field": "s"}}}
    ]
  }
]
}
